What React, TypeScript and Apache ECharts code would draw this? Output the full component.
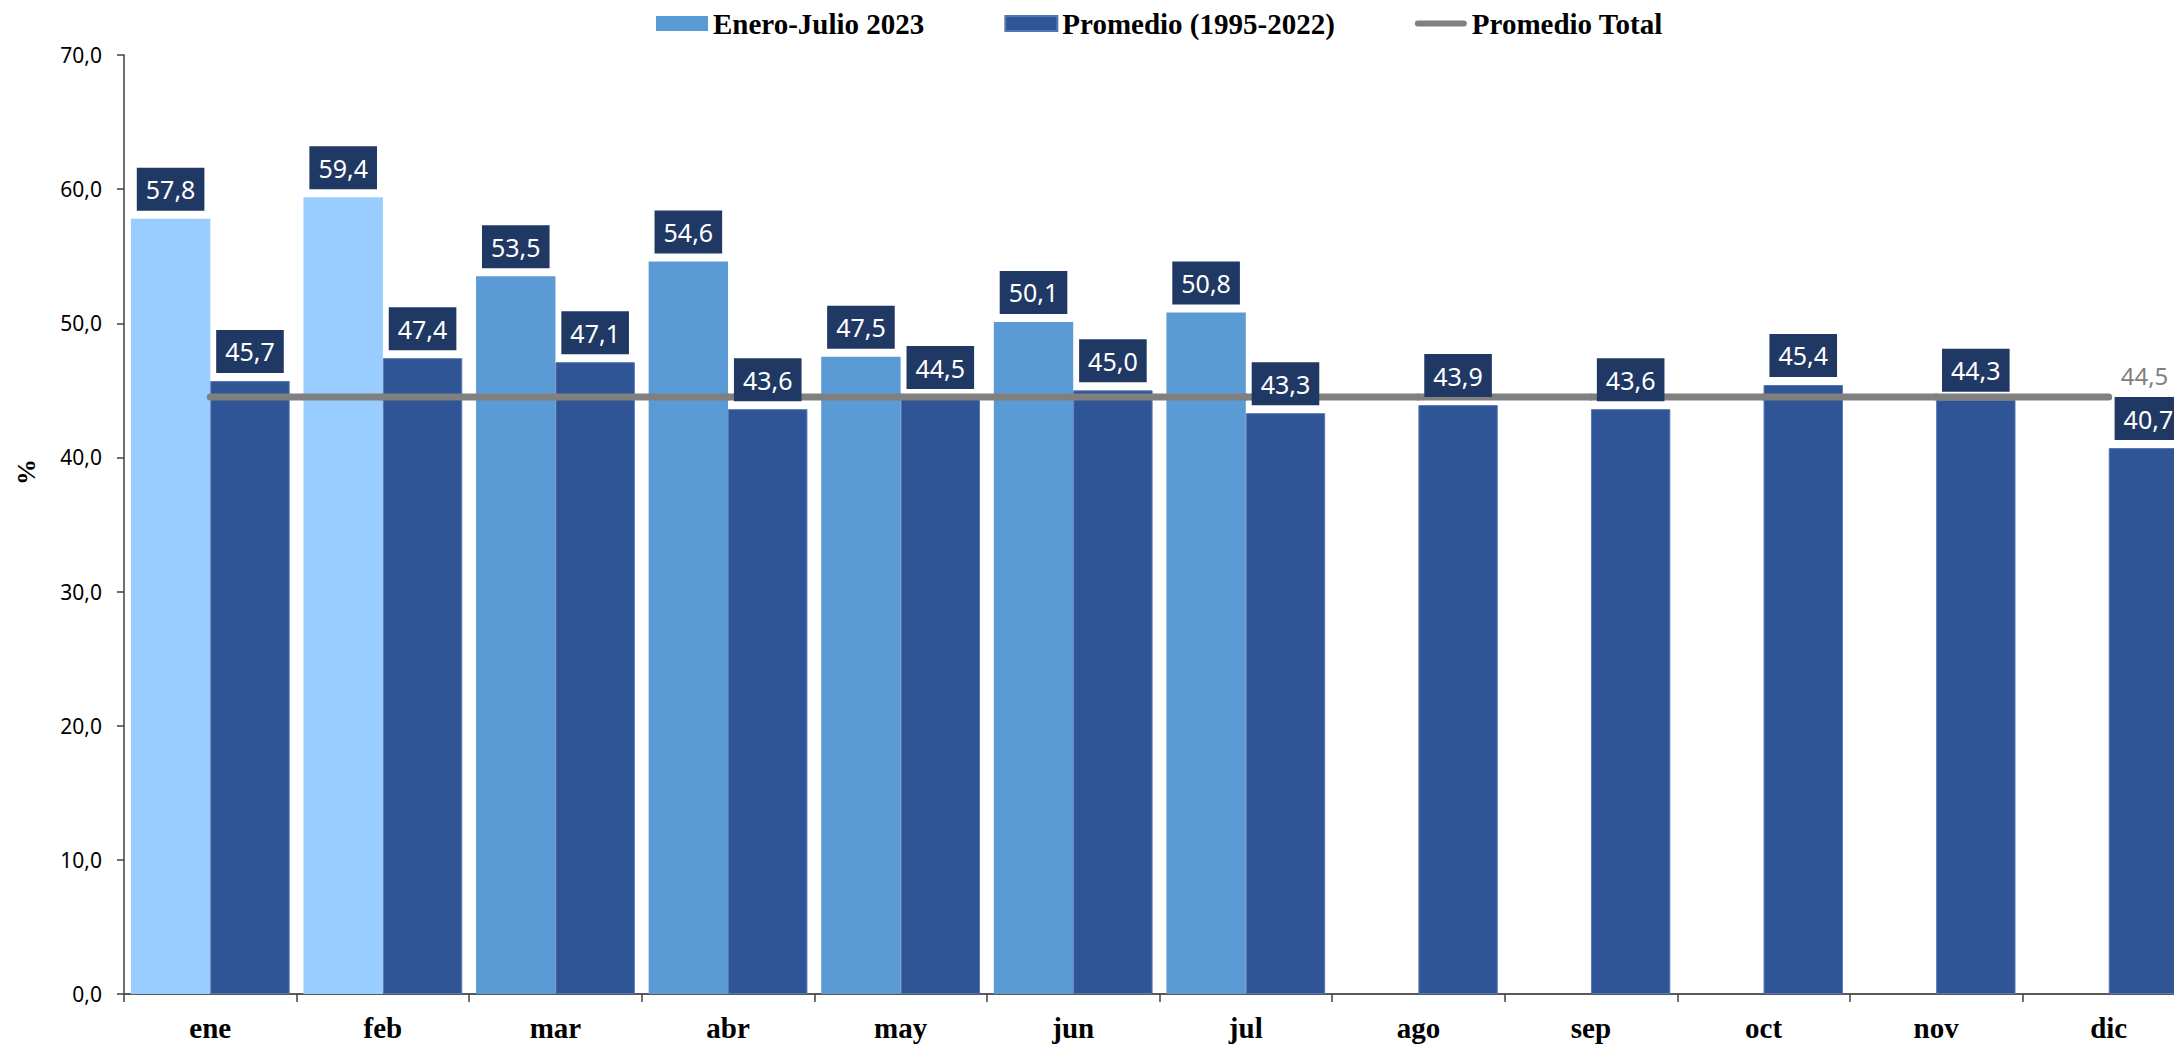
import React, { useEffect, useRef } from "react";
import * as echarts from "echarts";

const months = ["ene", "feb", "mar", "abr", "may", "jun", "jul", "ago", "sep", "oct", "nov", "dic"];
const values2023: (number | null)[] = [57.8, 59.4, 53.5, 54.6, 47.5, 50.1, 50.8, null, null, null, null, null];
const valuesAvg = [45.7, 47.4, 47.1, 43.6, 44.5, 45.0, 43.3, 43.9, 43.6, 45.4, 44.3, 40.7];
const totalAvgValues = [44.5, 44.5, 44.5, 44.5, 44.5, 44.5, 44.5, 44.5, 44.5, 44.5, 44.5, 44.5];
const yTicks = { min: 0, max: 70, interval: 10 };
const seriesNames = ["Enero-Julio 2023", "Promedio (1995-2022)", "Promedio Total"];
const lightMonths = 2; // first months drawn lighter

const fmt = (v: number) => v.toFixed(1).replace(".", ",");

const SERIF = "'Liberation Serif', 'Times New Roman', serif";
const SANS = "'Noto Sans', 'Open Sans', sans-serif";

export default function App() {
  const ref = useRef<HTMLDivElement>(null);
  useEffect(() => {
    if (!ref.current) return;
    const chart = echarts.init(ref.current, null, { renderer: "svg" });
    const barLabel = {
      show: true,
      position: "top",
      distance: 8,
      backgroundColor: "#203864",
      color: "#ffffff",
      fontFamily: SANS,
      fontSize: 25,
      lineHeight: 27,
      padding: [8, 9, 8, 9],
      formatter: (p: any) => (p.value == null ? "" : fmt(p.value)),
    };
    chart.setOption({
      animation: false,
      backgroundColor: "#ffffff",
      legend: {
        left: 651,
        top: 4,
        itemWidth: 52,
        itemHeight: 15,
        itemGap: 80,
        textStyle: { fontFamily: SERIF, fontWeight: "bold", fontSize: 29, color: "#000" },
        data: [
          { name: seriesNames[0], icon: "rect" },
          { name: seriesNames[1], icon: "rect" },
          {
            name: seriesNames[2],
            icon: "path://M0,0 M0,15 M3,4.5 L49,4.5 A3,3 0 0 1 49,10.5 L3,10.5 A3,3 0 0 1 3,4.5 Z",
            itemStyle: { color: "#808080" },
          },
        ],
      },
      grid: { left: 124, top: 55, bottom: 51, right: 25, containLabel: false },
      xAxis: {
        type: "category",
        data: months,
        boundaryGap: true,
        axisLine: { lineStyle: { color: "#595959", width: 2 } },
        axisTick: { show: true, length: 8, lineStyle: { color: "#404040", width: 1.5 } },
        axisLabel: { fontFamily: SERIF, fontWeight: "bold", fontSize: 29, color: "#000", margin: 19 },
      },
      yAxis: {
        type: "value",
        min: yTicks.min,
        max: yTicks.max,
        interval: yTicks.interval,
        splitLine: { show: false },
        axisLine: { show: true, lineStyle: { color: "#404040", width: 1.5 } },
        axisTick: { show: true, length: 7, lineStyle: { color: "#404040", width: 1.5 } },
        axisLabel: {
          fontFamily: SANS,
          fontSize: 21,
          color: "#000",
          margin: 22,
          formatter: (v: number) => fmt(v),
        },
      },
      graphic: [
        {
          type: "text",
          x: 26,
          y: 472,
          rotation: Math.PI / 2,
          style: {
            text: "%",
            fontFamily: SERIF,
            fontWeight: "bold",
            fontSize: 26,
            fill: "#000",
            align: "center",
            verticalAlign: "middle",
          },
        },
      ],
      series: [
        {
          name: seriesNames[0],
          type: "bar",
          barGap: "0%",
          barCategoryGap: "8%",
          itemStyle: { color: "#5B9BD5" },
          data: values2023.map((v, i) => ({
            value: v,
            itemStyle: { color: i < lightMonths ? "#99CCFF" : "#5B9BD5" },
          })),
          label: barLabel,
        },
        {
          name: seriesNames[1],
          type: "bar",
          barGap: "0%",
          barCategoryGap: "8%",
          itemStyle: { color: "#2F5597", borderColor: "#5677b3", borderWidth: 1 },
          data: valuesAvg,
          label: barLabel,
        },
        {
          name: seriesNames[2],
          type: "custom",
          z: 2,
          itemStyle: { color: "#808080" },
          data: totalAvgValues.map((v, i) => [i, v]),
          encode: { x: 0, y: 1 },
          renderItem: (params: any, api: any) => {
            const i = params.dataIndex;
            const v = api.value(1);
            const p = api.coord([i, v]);
            if (i < totalAvgValues.length - 1) {
              const q = api.coord([i + 1, totalAvgValues[i + 1]]);
              return {
                type: "line",
                z2: 1,
                shape: { x1: p[0], y1: p[1], x2: q[0], y2: q[1] },
                style: { stroke: "#808080", lineWidth: 7, lineCap: "round", fill: null },
              };
            }
            return {
              type: "text",
              z2: 3,
              x: p[0] + 12,
              y: p[1] - 22,
              style: {
                text: fmt(v),
                fill: "#808080",
                fontFamily: SANS,
                fontSize: 24,
                align: "left",
                verticalAlign: "middle",
              },
            };
          },
        },
      ],
    });
    return () => chart.dispose();
  }, []);
  return (
    <div style={{ position: "fixed", left: 0, top: 0, width: 2174, height: 1045, overflow: "hidden", background: "#fff" }}>
      <div ref={ref} style={{ width: 2220, height: 1045 }} />
    </div>
  );
}
